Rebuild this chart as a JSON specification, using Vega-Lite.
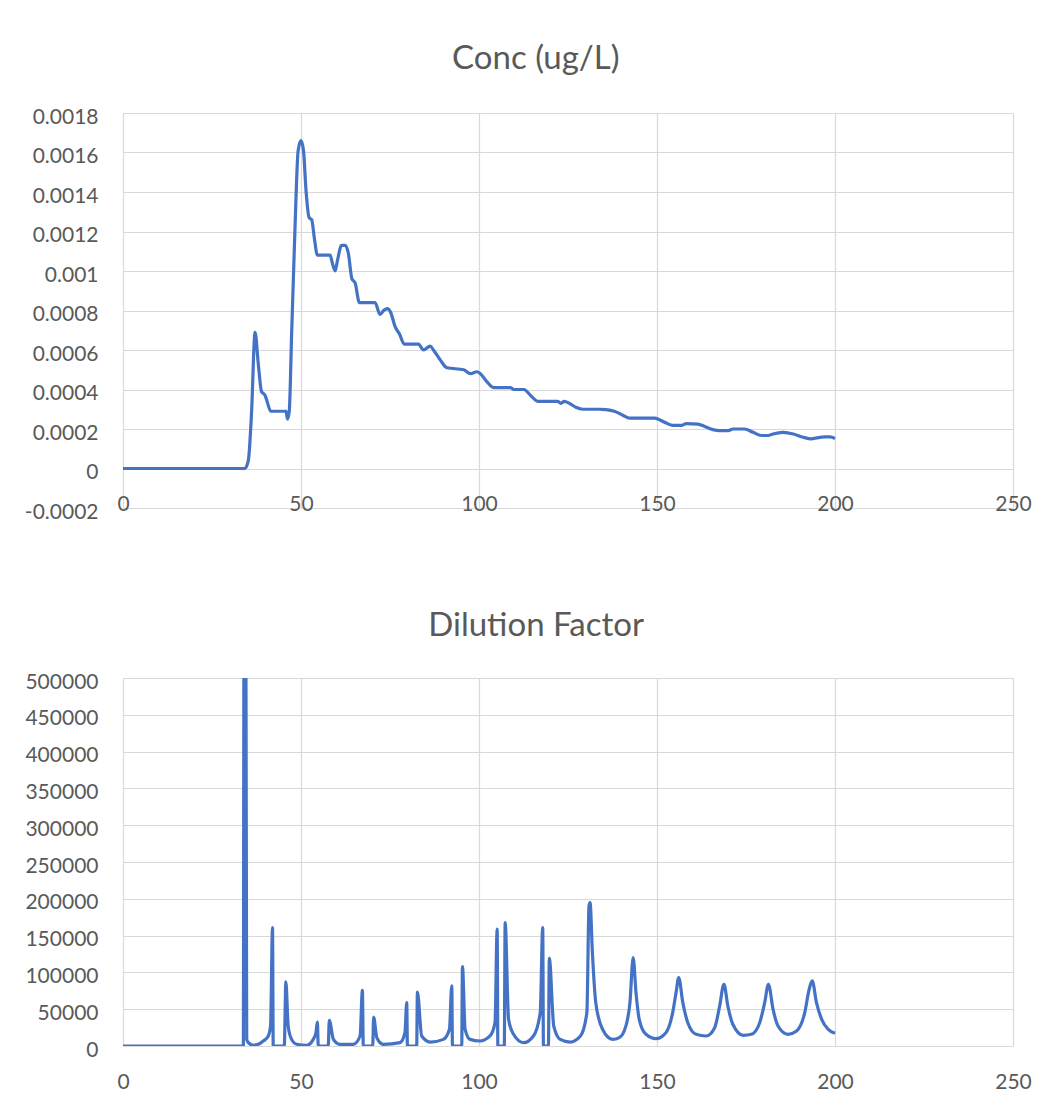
{
  "$schema": "https://vega.github.io/schema/vega-lite/v6.json",
  "background": "white",
  "padding": {"left": 24, "top": 43, "right": 0, "bottom": 0},
  "spacing": 88,
  "config": {
    "font": "Lato",
    "view": {"stroke": null},
    "axis": {
      "grid": true,
      "gridColor": "#d9d9d9",
      "gridWidth": 1.2,
      "domain": false,
      "ticks": false,
      "labelColor": "#595959",
      "labelFont": "Lato",
      "labelFontSize": 21,
      "title": null
    },
    "title": {"font": "Lato", "fontSize": 33, "fontWeight": "normal", "color": "#595959", "anchor": "middle", "frame": "bounds", "dx": 8}
  },
  "datasets": {
    "conc": [
      {"time": 0, "conc": 0}, {"time": 34.2, "conc": 0}, {"time": 35.2, "conc": 0.00004}, {"time": 36.1, "conc": 0.00028},
      {"time": 37.1, "conc": 0.00069}, {"time": 38.0, "conc": 0.00053}, {"time": 38.9, "conc": 0.00039}, {"time": 39.9, "conc": 0.00037},
      {"time": 40.3, "conc": 0.00035}, {"time": 41.5, "conc": 0.00029}, {"time": 45.8, "conc": 0.00029}, {"time": 46.2, "conc": 0.00025},
      {"time": 46.7, "conc": 0.00029}, {"time": 47.4, "conc": 0.0007}, {"time": 48.3, "conc": 0.00121}, {"time": 49.2, "conc": 0.00161},
      {"time": 50.0, "conc": 0.00166}, {"time": 50.7, "conc": 0.00161}, {"time": 51.4, "conc": 0.00141}, {"time": 52.3, "conc": 0.00127},
      {"time": 53.0, "conc": 0.00126}, {"time": 53.8, "conc": 0.00116}, {"time": 54.6, "conc": 0.00108}, {"time": 58.2, "conc": 0.00108},
      {"time": 58.8, "conc": 0.00104}, {"time": 59.6, "conc": 0.001}, {"time": 60.2, "conc": 0.00105}, {"time": 61.4, "conc": 0.00113},
      {"time": 62.4, "conc": 0.00113}, {"time": 63.3, "conc": 0.00109}, {"time": 64.3, "conc": 0.00096}, {"time": 65.2, "conc": 0.00094},
      {"time": 66.4, "conc": 0.00084}, {"time": 70.8, "conc": 0.00084}, {"time": 72.2, "conc": 0.00078}, {"time": 73.2, "conc": 0.0008},
      {"time": 74.3, "conc": 0.00081}, {"time": 75.2, "conc": 0.00079}, {"time": 76.4, "conc": 0.00072}, {"time": 77.7, "conc": 0.00068},
      {"time": 79.0, "conc": 0.00063}, {"time": 83.0, "conc": 0.00063}, {"time": 84.4, "conc": 0.0006}, {"time": 86.3, "conc": 0.00062},
      {"time": 87.2, "conc": 0.0006}, {"time": 89.1, "conc": 0.00055}, {"time": 91.0, "conc": 0.00051}, {"time": 95.7, "conc": 0.0005},
      {"time": 97.6, "conc": 0.00048}, {"time": 99.4, "conc": 0.00049}, {"time": 100.4, "conc": 0.00048}, {"time": 102.2, "conc": 0.00044},
      {"time": 104.1, "conc": 0.00041}, {"time": 108.8, "conc": 0.00041}, {"time": 109.8, "conc": 0.0004}, {"time": 112.6, "conc": 0.0004},
      {"time": 114.5, "conc": 0.00037}, {"time": 116.5, "conc": 0.00034}, {"time": 122.1, "conc": 0.00034}, {"time": 123.0, "conc": 0.00033},
      {"time": 123.9, "conc": 0.00034}, {"time": 125.4, "conc": 0.00033}, {"time": 127.2, "conc": 0.00031}, {"time": 129.1, "conc": 0.0003},
      {"time": 133.8, "conc": 0.0003}, {"time": 135.7, "conc": 0.000298}, {"time": 138.0, "conc": 0.00029}, {"time": 140.4, "conc": 0.00027},
      {"time": 142.3, "conc": 0.000255}, {"time": 149.3, "conc": 0.000255}, {"time": 150.7, "conc": 0.000247}, {"time": 152.6, "conc": 0.00023},
      {"time": 154.5, "conc": 0.000218}, {"time": 156.8, "conc": 0.000218}, {"time": 158.2, "conc": 0.000227}, {"time": 161.5, "conc": 0.000225},
      {"time": 163.4, "conc": 0.000213}, {"time": 165.7, "conc": 0.000197}, {"time": 167.6, "conc": 0.000192}, {"time": 170.0, "conc": 0.000192},
      {"time": 171.4, "conc": 0.0002}, {"time": 174.6, "conc": 0.0002}, {"time": 177.0, "conc": 0.000183}, {"time": 179.3, "conc": 0.000167},
      {"time": 181.2, "conc": 0.000167}, {"time": 182.6, "conc": 0.000175}, {"time": 185.4, "conc": 0.000183}, {"time": 188.3, "conc": 0.000175},
      {"time": 191.1, "conc": 0.000158}, {"time": 193.4, "conc": 0.00015}, {"time": 194.8, "conc": 0.000155}, {"time": 197.2, "conc": 0.00016},
      {"time": 198.6, "conc": 0.00016}, {"time": 200, "conc": 0.000152}
    ],
    "dil": [
      {"time": 0, "df": 0}, {"time": 33.8, "df": 0}, {"time": 34.0, "df": 600000}, {"time": 34.5, "df": 600000},
      {"time": 34.75, "df": 9000}, {"time": 35.2, "df": 4500}, {"time": 36.6, "df": 1000}, {"time": 38.0, "df": 2300},
      {"time": 39.4, "df": 6800}, {"time": 40.8, "df": 13600}, {"time": 41.45, "df": 27000}, {"time": 42.0, "df": 161000},
      {"time": 42.2, "df": 0}, {"time": 45.3, "df": 0}, {"time": 45.75, "df": 87000}, {"time": 46.4, "df": 27000},
      {"time": 47.35, "df": 9000}, {"time": 48.8, "df": 2300}, {"time": 51.6, "df": 900}, {"time": 53.45, "df": 9000},
      {"time": 54.2, "df": 18000}, {"time": 54.6, "df": 32600}, {"time": 54.85, "df": 0}, {"time": 57.65, "df": 0},
      {"time": 57.95, "df": 35000}, {"time": 59.1, "df": 9000}, {"time": 60.95, "df": 2300}, {"time": 64.7, "df": 2300},
      {"time": 66.6, "df": 13600}, {"time": 67.25, "df": 75700}, {"time": 67.5, "df": 0}, {"time": 70.15, "df": 0},
      {"time": 70.4, "df": 39400}, {"time": 71.3, "df": 11300}, {"time": 73.1, "df": 2300}, {"time": 77.8, "df": 4500},
      {"time": 79.2, "df": 18000}, {"time": 79.7, "df": 59000}, {"time": 79.9, "df": 0}, {"time": 82.5, "df": 0},
      {"time": 82.7, "df": 73400}, {"time": 83.9, "df": 13600}, {"time": 86.3, "df": 5400}, {"time": 90.0, "df": 9000},
      {"time": 91.7, "df": 22700}, {"time": 92.35, "df": 81600}, {"time": 92.55, "df": 0}, {"time": 95.15, "df": 0},
      {"time": 95.35, "df": 108000}, {"time": 96.1, "df": 22700}, {"time": 97.5, "df": 9000}, {"time": 100.3, "df": 6800},
      {"time": 103.1, "df": 13600}, {"time": 104.5, "df": 31700}, {"time": 105.1, "df": 158700}, {"time": 105.3, "df": 0},
      {"time": 107.1, "df": 0}, {"time": 107.35, "df": 167700}, {"time": 108.3, "df": 36300}, {"time": 109.7, "df": 15900},
      {"time": 112.5, "df": 4500}, {"time": 115.3, "df": 13600}, {"time": 117.2, "df": 45300}, {"time": 117.9, "df": 161000},
      {"time": 118.1, "df": 0}, {"time": 119.5, "df": 0}, {"time": 119.75, "df": 119000}, {"time": 121.0, "df": 27000},
      {"time": 122.8, "df": 9000}, {"time": 125.6, "df": 5400}, {"time": 128.5, "df": 13600}, {"time": 130.3, "df": 45300},
      {"time": 130.9, "df": 190000}, {"time": 131.2, "df": 195000}, {"time": 131.85, "df": 127000}, {"time": 132.8, "df": 59000},
      {"time": 134.7, "df": 22700}, {"time": 137.5, "df": 9000}, {"time": 139.4, "df": 11300}, {"time": 141.25, "df": 27000},
      {"time": 142.4, "df": 59000}, {"time": 143.3, "df": 120000}, {"time": 144.1, "df": 72500}, {"time": 145.0, "df": 36300},
      {"time": 146.9, "df": 15900}, {"time": 149.7, "df": 10000}, {"time": 152.5, "df": 18100}, {"time": 154.4, "df": 45300},
      {"time": 155.35, "df": 72500}, {"time": 156.1, "df": 93000}, {"time": 157.25, "df": 59000}, {"time": 158.65, "df": 31700},
      {"time": 161.0, "df": 15900}, {"time": 163.8, "df": 13600}, {"time": 166.2, "df": 24900}, {"time": 167.6, "df": 54400},
      {"time": 168.8, "df": 83900}, {"time": 169.9, "df": 54400}, {"time": 171.3, "df": 29500}, {"time": 174.2, "df": 14500},
      {"time": 176.5, "df": 15900}, {"time": 178.85, "df": 31700}, {"time": 180.25, "df": 59000}, {"time": 181.3, "df": 83900},
      {"time": 182.6, "df": 49900}, {"time": 184.0, "df": 27200}, {"time": 186.8, "df": 15900}, {"time": 189.2, "df": 20400},
      {"time": 191.5, "df": 45300}, {"time": 192.75, "df": 77100}, {"time": 193.6, "df": 88400}, {"time": 194.8, "df": 59000},
      {"time": 196.25, "df": 36300}, {"time": 198.1, "df": 22700}, {"time": 200, "df": 17200}
    ]
  },
  "vconcat": [
    {
      "title": {"text": "Conc (ug/L)", "offset": 30},
      "width": 890,
      "height": 395,
      "data": {"name": "conc"},
      "mark": {"type": "line", "color": "#4472C4", "strokeWidth": 3.2, "interpolate": "monotone", "clip": true},
      "encoding": {
        "x": {
          "field": "time", "type": "quantitative",
          "scale": {"domain": [0, 250], "nice": false},
          "axis": {"values": [0, 50, 100, 150, 200, 250], "labelPadding": -15, "labelBaseline": "top", "labelFlush": false}
        },
        "y": {
          "field": "conc", "type": "quantitative",
          "scale": {"domain": [-0.0002, 0.0018], "nice": false, "zero": false},
          "axis": {
            "values": [-0.0002, 0, 0.0002, 0.0004, 0.0006, 0.0008, 0.001, 0.0012, 0.0014, 0.0016, 0.0018],
            "labelExpr": "replace(format(datum.value, '~g'), '\u2212', '-')",
            "labelPadding": 25, "labelOffset": 4
          }
        }
      }
    },
    {
      "title": {"text": "Dilution Factor", "offset": 28},
      "width": 890,
      "height": 368,
      "data": {"name": "dil"},
      "mark": {"type": "line", "color": "#4472C4", "strokeWidth": 3.2, "interpolate": "monotone", "clip": true},
      "encoding": {
        "x": {
          "field": "time", "type": "quantitative",
          "scale": {"domain": [0, 250], "nice": false},
          "axis": {"values": [0, 50, 100, 150, 200, 250], "labelPadding": 25, "labelFlush": false}
        },
        "y": {
          "field": "df", "type": "quantitative",
          "scale": {"domain": [0, 500000], "nice": false},
          "axis": {
            "values": [0, 50000, 100000, 150000, 200000, 250000, 300000, 350000, 400000, 450000, 500000],
            "format": "d",
            "labelPadding": 25, "labelOffset": 4
          }
        }
      }
    }
  ]
}
